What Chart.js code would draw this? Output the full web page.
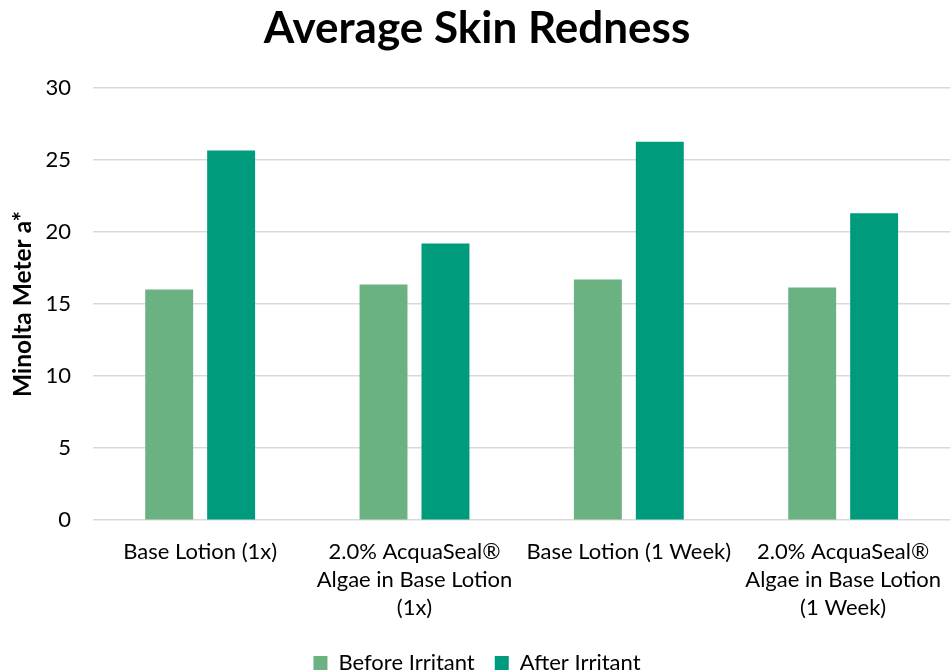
<!DOCTYPE html>
<html>
<head>
<meta charset="utf-8">
<title>Average Skin Redness</title>
<script src="https://cdn.jsdelivr.net/npm/chart.js@4/dist/chart.umd.min.js"></script>
<style>
  html, body { margin: 0; padding: 0; background: #fff; }
  #wrap { width: 951px; height: 671px; }
</style>
</head>
<body>
<div id="wrap"><canvas id="redness"></canvas></div>
<script>
// data
const categories = [
  "Base Lotion (1x)",
  ["2.0% AcquaSeal®", "Algae in Base Lotion", "(1x)"],
  "Base Lotion (1 Week)",
  ["2.0% AcquaSeal®", "Algae in Base Lotion", "(1 Week)"],
];
const beforeIrritant = [16.0, 16.35, 16.7, 16.15];
const afterIrritant = [25.65, 19.2, 26.25, 21.3];
const yTicks = [0, 5, 10, 15, 20, 25, 30];

const font = "Lato, 'Open Sans', sans-serif";

new Chart(document.getElementById("redness"), {
  type: "bar",
  data: {
    labels: categories,
    datasets: [
      {
        label: "Before Irritant",
        data: beforeIrritant,
        backgroundColor: "#6BB282",
        borderWidth: 0,
      },
      {
        label: "After Irritant",
        data: afterIrritant,
        backgroundColor: "#009A7C",
        borderWidth: 0,
      },
    ],
  },
  options: {
    responsive: true,
    maintainAspectRatio: false,
    animation: false,
    datasets: {
      bar: {
        categoryPercentage: 0.578,
        barPercentage: 0.774,
      },
    },
    layout: {
      padding: { left: 3, right: 0, top: 0, bottom: -13 },
    },
    plugins: {
      title: {
        display: true,
        text: "Average Skin Redness",
        color: "#000",
        font: { family: font, size: 44, weight: "bold" },
        padding: { top: 2, bottom: 33 },
      },
      legend: {
        position: "bottom",
        labels: {
          color: "#000",
          font: { family: font, size: 22 },
          boxWidth: 14,
          boxHeight: 14,
          padding: 20,
        },
      },
      tooltip: { enabled: false },
    },
    scales: {
      y: {
        min: 0,
        max: 30,
        afterBuildTicks: (axis) => {
          axis.ticks = yTicks.map((v) => ({ value: v }));
        },
        afterFit: (axis) => {
          axis.width = 90;
        },
        grid: {
          color: "#D9D9D9",
          lineWidth: 1.5,
          drawTicks: false,
        },
        border: { display: false },
        ticks: {
          color: "#000",
          font: { family: font, size: 22 },
          padding: 22,
        },
        title: {
          display: true,
          text: "Minolta Meter a*",
          color: "#000",
          font: { family: font, size: 24.5, weight: "bold" },
          padding: { top: 5, bottom: 4 },
        },
      },
      x: {
        grid: { display: false },
        border: { display: false },
        ticks: {
          color: "#000",
          font: { family: font, size: 22, lineHeight: 1.27 },
          maxRotation: 0,
          autoSkip: false,
          padding: 10,
        },
      },
    },
  },
});
</script>
</body>
</html>
